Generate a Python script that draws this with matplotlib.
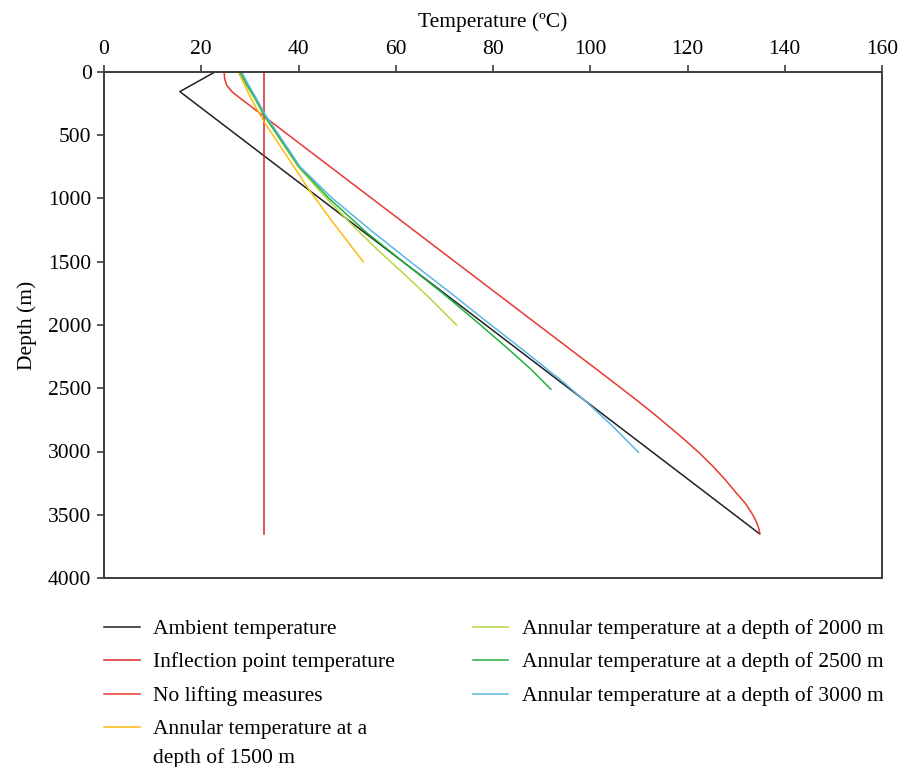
import numpy as np
import matplotlib
matplotlib.use('Agg')
import matplotlib.pyplot as plt
from matplotlib.lines import Line2D

plt.rcParams['font.family'] = ['Liberation Serif', 'DejaVu Serif']

# Depth (m) / temperature (degC) pairs
ambient_depth = [0, 155, 3650]
ambient_temp = [22.8, 15.6, 134.8]

inflection_depth = [0, 3650]
inflection_temp = [32.9, 32.9]

nolift_depth = [0, 50, 103, 155, 195, 500, 1000, 1500, 2000, 2400, 2593, 2700, 2777,
                2900, 3014, 3120, 3225, 3331, 3410, 3480, 3541, 3600, 3650]
nolift_temp = [24.7, 24.8, 25.2, 26.3, 27.6, 38.0, 55.1, 72.2, 89.3, 103.0, 109.5, 113.0,
               115.4, 119.2, 122.5, 125.3, 127.8, 130.1, 131.9, 133.1, 134.0, 134.6, 134.9]

a1500_depth = [0, 100, 221, 393, 600, 933, 1200, 1500]
a1500_temp = [27.6, 28.9, 30.4, 32.9, 36.5, 42.2, 47.3, 53.3]

a2000_depth = [0, 100, 200, 340, 550, 748, 1000, 1200, 1407, 1600, 1800, 2000]
a2000_temp = [27.8, 29.2, 30.8, 32.9, 36.5, 39.9, 45.8, 50.8, 56.3, 61.8, 67.3, 72.5]

a2500_depth = [0, 100, 200, 340, 550, 748, 1000, 1275, 1500, 1750, 1950, 2171, 2350, 2508]
a2500_temp = [28.0, 29.4, 31.0, 32.9, 36.6, 40.1, 46.3, 54.2, 61.5, 69.7, 75.9, 82.6, 87.8, 91.9]

a3000_depth = [0, 100, 200, 340, 550, 748, 1000, 1249, 1500, 1750, 1955, 2237, 2450, 2646, 2800, 3006]
a3000_temp = [28.3, 29.7, 31.2, 33.2, 36.9, 40.3, 47.0, 54.8, 63.0, 71.4, 78.1, 87.5, 94.4,
              100.3, 104.6, 109.9]

series = [
    ('Ambient temperature', ambient_temp, ambient_depth, '#231f20'),
    ('Inflection point temperature', inflection_temp, inflection_depth, '#d7262b'),
    ('No lifting measures', nolift_temp, nolift_depth, '#e8392d'),
    ('Annular temperature at a\ndepth of 1500 m', a1500_temp, a1500_depth, '#fdbb12'),
    ('Annular temperature at a depth of 2000 m', a2000_temp, a2000_depth, '#b3d943'),
    ('Annular temperature at a depth of 2500 m', a2500_temp, a2500_depth, '#22b23c'),
    ('Annular temperature at a depth of 3000 m', a3000_temp, a3000_depth, '#5bb5e3'),
]

fig = plt.figure(figsize=(9, 7.67), dpi=100)
ax = fig.add_axes([104 / 900, 1 - 578 / 767, 778 / 900, 506 / 767])

for label, t, d, c in series:
    ax.plot(t, d, color=c, lw=1.1)

ax.set_xlim(0, 160)
ax.set_ylim(4000, 0)
ax.set_xticks(np.arange(0, 161, 20))
ax.set_yticks(np.arange(0, 4001, 500))
ax.xaxis.tick_top()
ax.xaxis.set_label_position('top')
ax.set_xlabel('Temperature (ºC)', fontsize=15.5, labelpad=10)
ax.set_ylabel('Depth (m)', fontsize=15.5, labelpad=8)
ax.tick_params(labelsize=15.5, length=5, width=1.2, color='#3c3c3c', pad=4)
for s in ax.spines.values():
    s.set_color('#3c3c3c')
    s.set_linewidth(1.4)

# legend drawn by hand: two columns, handle on the first text line
cols = [(104, 140, 153), (473, 508, 522)]
row_y = [627, 660, 694, 727]
for i, (label, t, d, c) in enumerate(series):
    col = 0 if i < 4 else 1
    row = i if i < 4 else i - 4
    x0, x1, xt = cols[col]
    y = 1 - row_y[row] / 767
    fig.add_artist(Line2D([x0 / 900, x1 / 900], [y, y], color=c, lw=1.1,
                          transform=fig.transFigure))
    for k, line in enumerate(label.split('\n')):
        fig.text(xt / 900, y - k * 29 / 767, line, fontsize=15.5,
                 va='center_baseline', ha='left')

fig.savefig('out.png', dpi=100)
